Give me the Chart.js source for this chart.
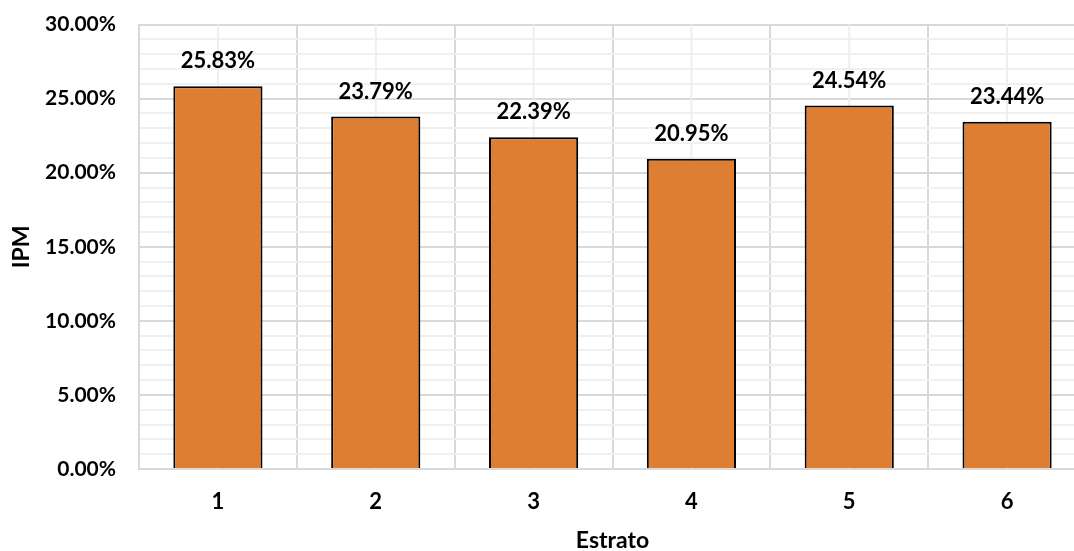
<!DOCTYPE html>
<html>
<head>
<meta charset="utf-8">
<script src="https://cdn.jsdelivr.net/npm/chart.js@4.4.1/dist/chart.umd.min.js"></script>
<style>
    html, body { margin: 0; padding: 0; background: #ffffff; overflow: hidden; }
    #wrap { position: absolute; left: 0; top: -11px; width: 1100px; height: 562px; }
</style>
</head>
<body>
<div id="wrap"><canvas id="ipmChart" width="1100" height="562"></canvas></div>
<script>
// Chart data
const estratos = ['1', '2', '3', '4', '5', '6'];
const ipmValues = [25.83, 23.79, 22.39, 20.95, 24.54, 23.44]; // percent
const yTicksMajor = [0, 5, 10, 15, 20, 25, 30];

const FONT = 'Lato, "Open Sans", sans-serif';

// minor vertical gridlines at category centres
const centerLines = {
    id: 'centerLines',
    beforeDatasetsDraw(chart) {
        const ctx = chart.ctx;
        const x = chart.scales.x;
        const area = chart.chartArea;
        ctx.save();
        ctx.strokeStyle = '#eeeeee';
        ctx.lineWidth = 2;
        estratos.forEach((e, i) => {
            const px = x.getPixelForValue(i);
            ctx.beginPath();
            ctx.moveTo(px, area.top);
            ctx.lineTo(px, area.bottom);
            ctx.stroke();
        });
        ctx.restore();
    }
};

// value labels above the bars
const barLabels = {
    id: 'barLabels',
    afterDatasetsDraw(chart) {
        const ctx = chart.ctx;
        const meta = chart.getDatasetMeta(0);
        ctx.save();
        ctx.fillStyle = '#000000';
        ctx.font = 'bold 22px ' + FONT;
        ctx.textAlign = 'center';
        ctx.textBaseline = 'middle';
        meta.data.forEach((bar, i) => {
            ctx.fillText(ipmValues[i].toFixed(2) + '%', bar.x, bar.y - 25);
        });
        ctx.restore();
    }
};

const ctx = document.getElementById('ipmChart').getContext('2d');
const chart = new Chart(ctx, {
    type: 'bar',
    data: {
        labels: estratos,
        datasets: [{
            data: ipmValues,
            backgroundColor: '#DE7E32',
            borderColor: '#000000',
            borderWidth: 2,
            categoryPercentage: 1.0,
            barPercentage: 0.565
        }]
    },
    options: {
        responsive: false,
        animation: false,
        layout: { padding: { left: 0, top: 14, right: 14, bottom: 0 } },
        plugins: {
            legend: { display: false },
            tooltip: { enabled: false }
        },
        scales: {
            x: {
                grid: {
                    offset: true,
                    color: '#d9d9d9',
                    lineWidth: 2,
                    drawTicks: false
                },
                border: { color: '#d9d9d9', width: 2 },
                ticks: {
                    color: '#000000',
                    padding: 20,
                    font: { family: FONT, size: 22, weight: 'bold' }
                },
                title: {
                    display: true,
                    text: 'Estrato',
                    color: '#000000',
                    padding: { top: 0, bottom: -3 },
                    font: { family: FONT, size: 23, weight: 'bold' }
                },
                afterFit(scale) { scale.height = 82; }
            },
            y: {
                min: 0,
                max: 30,
                grid: {
                    drawTicks: false,
                    lineWidth: 2,
                    color: (c) => (Math.round(c.tick.value) % 5 === 0 ? '#d9d9d9' : '#f0f0f0')
                },
                border: { color: '#d9d9d9', width: 2 },
                ticks: {
                    stepSize: 1,
                    autoSkip: false,
                    color: '#000000',
                    padding: 23,
                    font: { family: FONT, size: 21, weight: 'bold' },
                    callback: (v) => (yTicksMajor.includes(Math.round(v)) ? v.toFixed(2) + '%' : '')
                },
                title: {
                    display: true,
                    text: 'IPM',
                    color: '#000000',
                    padding: { top: 8, bottom: 0 },
                    font: { family: FONT, size: 23, weight: 'bold' }
                },
                afterFit(scale) { scale.width = 139; }
            }
        }
    },
    plugins: [centerLines, barLabels]
});
</script>
</body>
</html>
